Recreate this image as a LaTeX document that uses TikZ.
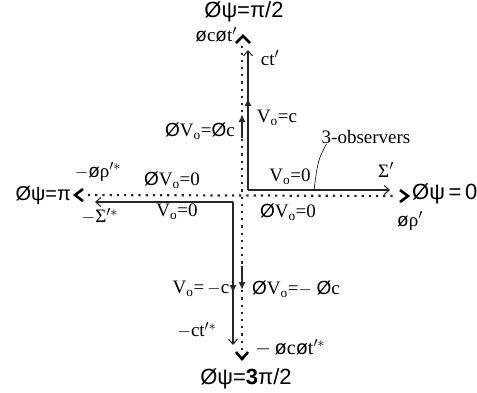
\documentclass[tikz,border=0pt]{standalone}
\usepackage{fontspec}
\setmainfont{Liberation Serif}
\newfontfamily\sansf{Liberation Sans}
\usetikzlibrary{arrows.meta}
\tikzset{
  solidln/.style={line width=1.4pt,draw=black!85,-{Straight Barb[length=5pt,width=9pt,line width=1.1pt]}},
  dotln/.style={line width=2.2pt,draw=black!85,dash pattern=on 2.2pt off 5pt},
  chev/.style={line width=2.6pt,line cap=butt,line join=miter},
  bigarr/.style={line width=2.6pt,draw=black!85,-{Latex[length=8pt,width=7pt]}},
  lbl/.style={inner sep=0pt,font=\fontsize{19}{19}\selectfont},
  ttl/.style={inner sep=0pt,font=\sansf\fontsize{22}{22}\selectfont},
}
\newcommand{\Os}{{\sansf Ø}}
\newcommand{\os}{{\sansf ø}}
\begin{document}
\begin{tikzpicture}[x=1pt,y=-1pt]
\useasboundingbox (0,0) rectangle (477,392);
% dotted axes
\coordinate (dT) at (242,46);
\coordinate (dB) at (242,350);
\coordinate (dL) at (88,195);
\coordinate (dR) at (396,196);
\draw[dotln] (dB) -- (dT);
\draw[dotln] (dL) -- (dR);
% chevrons
\draw[chev] (236,43) -- (243,36) -- (250,43);
\draw[chev] (236,352) -- (242,359) -- (248,352);
\draw[chev] (83,189) -- (75,195) -- (83,201);
\draw[chev] (400,190) -- (408,196) -- (400,202);
% solid L shapes
\coordinate (c1) at (248,190);
\coordinate (c2) at (233,202);
\coordinate (ct) at (248,50);
\coordinate (sg) at (390,190);
\coordinate (sgm) at (95,202);
\coordinate (ctm) at (233,345);
\draw[solidln] (c1) -- (ct);
\draw[solidln] (c1) -- (sg);
\draw[solidln] (c2) -- (sgm);
\draw[solidln] (c2) -- (ctm);
% small arrows
\coordinate (a1s) at (248,121); \coordinate (a1e) at (248,98);
\coordinate (a2s) at (242,138); \coordinate (a2e) at (242,114);
\coordinate (a3s) at (233,268); \coordinate (a3e) at (233,293);
\coordinate (a4s) at (242,266); \coordinate (a4e) at (242,290);
\draw[bigarr] (a1s) -- (a1e);
\draw[bigarr] (a2s) -- (a2e);
\draw[bigarr] (a3s) -- (a3e);
\draw[bigarr] (a4s) -- (a4e);
% titles
\node[ttl] (t1) at (244,12) {Øψ=π/2};
\node[ttl,anchor=west] (t2) at (412,194) {Øψ\,=\,0};
\node[ttl,anchor=east,font=\sansf\fontsize{20}{20}\selectfont] (t3) at (71,195) {Øψ=π};
\node[ttl] (t4) at (246,379) {Øψ=\textbf{3}π/2};
% labels
\node[lbl,anchor=east] (l1) at (237,35) {\os c\os t$'$};
\node[lbl] (l2) at (270,58) {ct$'$};
\node[lbl] (l3) at (200,131) {\Os V\textsubscript{o}=\Os c};
\node[lbl] (l4) at (277,118) {V\textsubscript{o}=c};
\node[lbl] (l5) at (366,137) {3-observers};
\node[lbl] (l6) at (290,177) {V\textsubscript{o}=0};
\node[lbl] (l7) at (386,170) {Σ$'$};
\node[lbl] (l8) at (410,221) {\os ρ$'$};
\node[lbl] (l9) at (288,212) {\Os V\textsubscript{o}=0};
\node[lbl] (l10) at (98,172) {$-$\os ρ$'^{*}$};
\node[lbl] (l11) at (172,180) {\Os V\textsubscript{o}=0};
\node[lbl] (l12) at (100,216) {$-$Σ$'^{*}$};
\node[lbl] (l13) at (177,212) {V\textsubscript{o}=0};
\node[lbl] (l14) at (201,289) {V\textsubscript{o}=\,$-$c};
\node[lbl] (l15) at (296,289) {\Os V\textsubscript{o}=$-$ \Os c};
\node[lbl] (l16) at (197,330) {$-$ct$'^{*}$};
\node[lbl,anchor=west,font=\fontsize{20}{20}\selectfont] (l17) at (255,348) {$-$\,\os c\os t$'^{*}$};
% observer pointer
\coordinate (obs) at (314,190);
\draw[line width=0.6pt] (l5.south west) ++(5,0) .. controls (318,160) .. (obs);
\end{tikzpicture}
\end{document}
